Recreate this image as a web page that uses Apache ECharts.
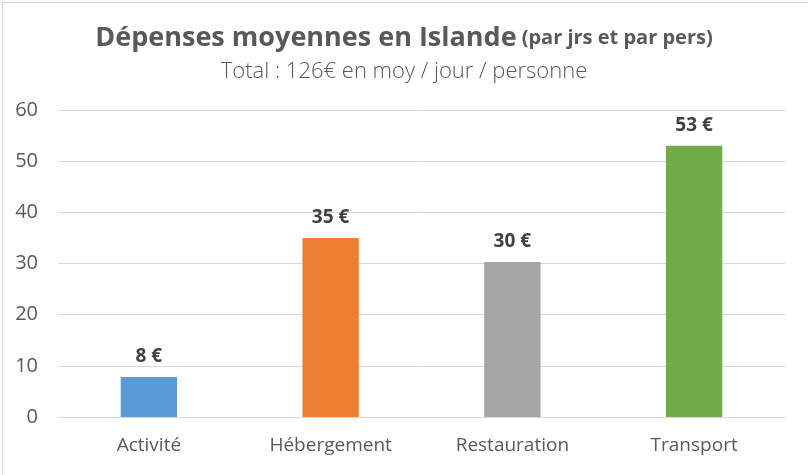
<!DOCTYPE html>
<html><head><meta charset="utf-8">
<script src="https://cdn.jsdelivr.net/npm/echarts@6/dist/echarts.min.js"></script>
<style>html,body{margin:0;padding:0;background:#fff}#c{width:808px;height:475px}</style>
</head><body><div id="c"></div>
<script>
const categories = ['Activité', 'Hébergement', 'Restauration', 'Transport'];
const values = [7.8, 35, 30.3, 53];
const colors = ['#5B9BD5', '#ED7D31', '#A5A5A5', '#70AD47'];
const yTicks = [0, 60, 10];

const chart = echarts.init(document.getElementById('c'), null, {renderer: 'canvas'});
const FONT = 'Open Sans';
chart.setOption({
  animation: false,
  graphic: [{type: 'rect', left: 0, top: 0, shape: {width: 807, height: 474}, style: {fill: 'none', stroke: '#d9d9d9', lineWidth: 1}}],
  title: {
    left: 'center', top: 20,
    text: '{a|Dépenses moyennes en Islande} {b|(par jrs et par pers)}',
    subtext: 'Total : 126€ en moy / jour / personne',
    itemGap: 9,
    textStyle: {
      rich: {
        a: {fontFamily: FONT, fontSize: 27, fontWeight: 'bold', color: '#595959'},
        b: {fontFamily: FONT, fontSize: 20, fontWeight: 'bold', color: '#595959'}
      }
    },
    subtextStyle: {fontFamily: FONT, fontSize: 22, color: '#595959', fontWeight: 300}
  },
  grid: {left: 58, right: 23, top: 110, bottom: 58, containLabel: false},
  xAxis: {
    type: 'category', data: categories,
    axisLine: {lineStyle: {color: '#d9d9d9'}}, axisTick: {show: false},
    axisLabel: {fontFamily: FONT, fontSize: 19, color: '#595959', margin: 19}
  },
  yAxis: {
    type: 'value', min: yTicks[0], max: yTicks[1], interval: yTicks[2],
    axisLine: {show: false}, axisTick: {show: false},
    splitLine: {lineStyle: {color: '#d9d9d9'}},
    axisLabel: {fontFamily: FONT, fontSize: 20, color: '#595959', margin: 20}
  },
  series: [{
    type: 'bar', barWidth: '31%',
    data: values.map((v, i) => ({value: v, itemStyle: {color: colors[i]}})),
    label: {show: true, position: 'top', distance: 11, fontFamily: FONT, fontSize: 19, fontWeight: 'bold', color: '#404040',
      formatter: p => Math.round(p.value) + ' €'}
  }]
});
</script></body></html>
